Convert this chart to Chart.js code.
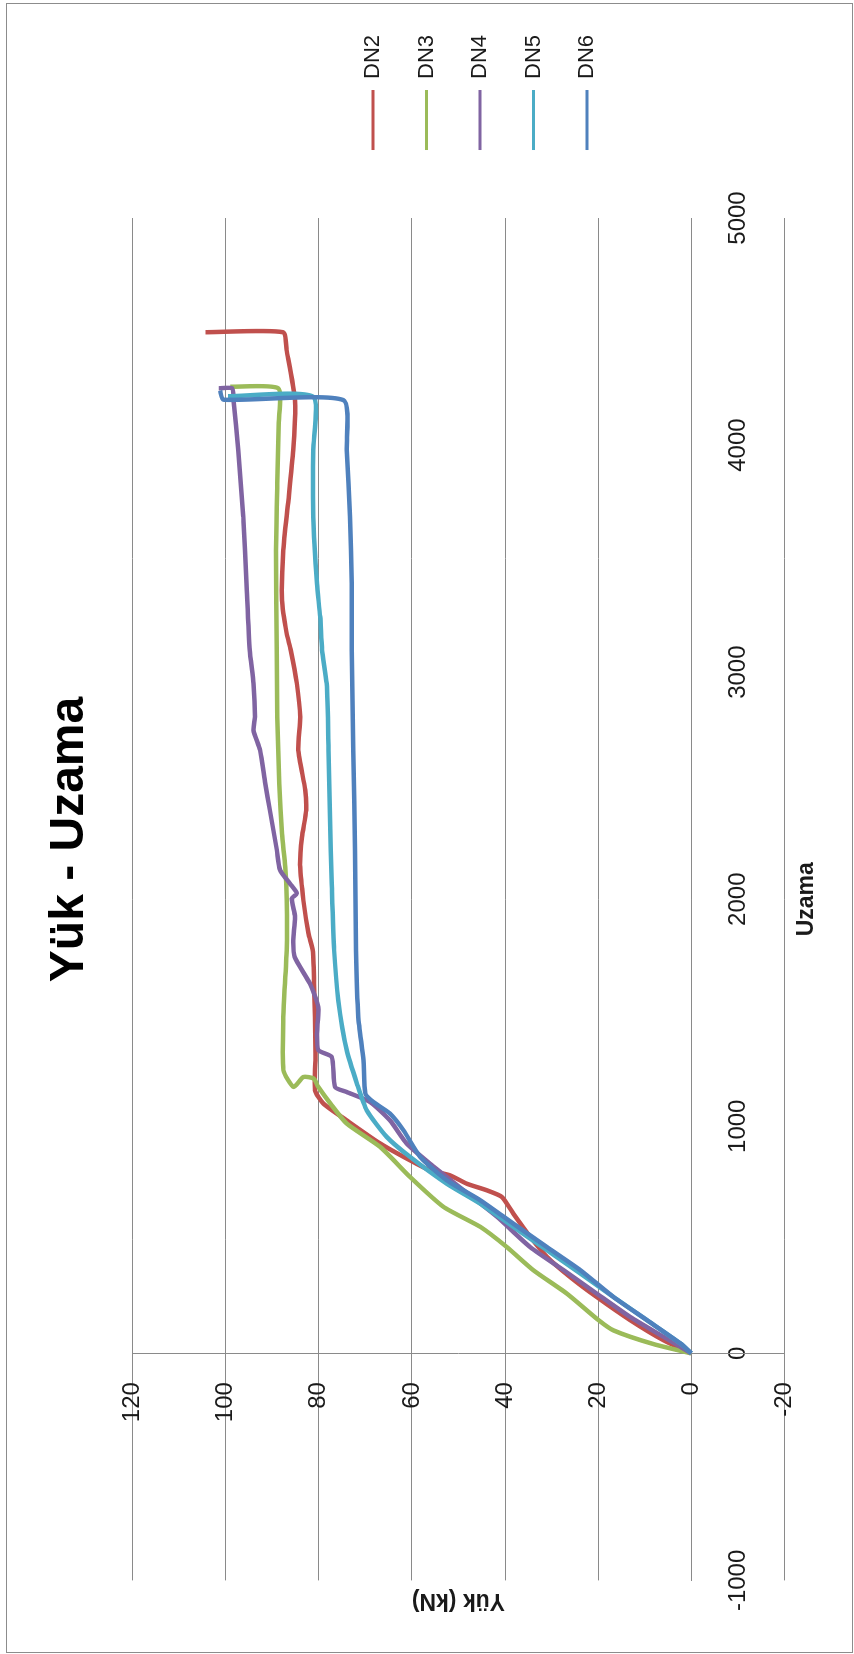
<!DOCTYPE html>
<html>
<head>
<meta charset="utf-8">
<title>Yük - Uzama</title>
<script src="https://cdn.jsdelivr.net/npm/chart.js@4.4.1/dist/chart.umd.min.js"></script>
<style>
    html, body { margin: 0; padding: 0; background: #fff; overflow: hidden; }
    #page { position: relative; width: 854px; height: 1654px; overflow: hidden; background: #fff; }
    #frame { position: absolute; left: 6px; top: 3px; width: 845px; height: 1648px; border: 1px solid #8c8c8c; }
    /* chart is drawn landscape, then turned a quarter turn to the left */
    #rot { position: absolute; left: 0; top: 0; width: 1654px; height: 854px;
           transform-origin: 0 0; transform: translate(0, 1654px) rotate(-90deg); }
</style>
</head>
<body>
<div id="page">
    <div id="frame"></div>
    <div id="rot"><canvas id="chart" width="1654" height="854"></canvas></div>
</div>

<script>
/* ── DATA ─────────────────────────────────────────── */
const uzamaTicks = [-1000, 0, 1000, 2000, 3000, 4000, 5000];
const yukTicks = [-20, 0, 20, 40, 60, 80, 100, 120];
const seriesNames = ['DN2', 'DN3', 'DN4', 'DN5', 'DN6'];

const uzamaDN2 = [0, 57, 146, 248, 336, 425, 513, 615, 689, 718, 747, 784, 806, 850, 924, 1026, 1100, 1158, 1320, 1481, 1628, 1775, 1849, 1995, 2142, 2274, 2392, 2481, 2656, 2803, 2950, 3097, 3171, 3317, 3537, 3757, 3978, 4198, 4418, 4497, 4497];
const yukDN2 = [0, 5.9, 13.1, 20.3, 26.0, 31.0, 34.6, 38.2, 40.7, 43.9, 48.2, 51.8, 56.1, 60.4, 66.8, 74.0, 79.0, 80.8, 80.7, 80.8, 81.0, 81.3, 82.2, 83.3, 84.0, 83.6, 82.7, 82.9, 84.4, 84.0, 84.7, 86.0, 86.9, 87.9, 87.6, 86.5, 85.5, 85.1, 86.9, 87.7, 104.3];

const uzamaDN3 = [0, 40, 101, 146, 263, 366, 468, 557, 645, 777, 909, 1012, 1100, 1173, 1210, 1217, 1173, 1247, 1481, 1775, 1995, 2142, 2289, 2510, 2803, 3097, 3537, 3832, 4100, 4250, 4257];
const yukDN3 = [0, 8.0, 16.7, 19.9, 26.7, 33.9, 39.6, 45.3, 53.2, 60.4, 66.8, 74.0, 77.5, 80.1, 81.1, 83.3, 85.4, 87.6, 87.6, 86.9, 86.9, 87.2, 87.9, 88.5, 88.9, 89.0, 89.2, 88.9, 88.6, 88.7, 99.0];

const uzamaDN4 = [0, 72, 160, 263, 366, 468, 601, 718, 835, 924, 1026, 1107, 1151, 1173, 1305, 1335, 1408, 1525, 1628, 1746, 1819, 1922, 2003, 2025, 2069, 2128, 2216, 2392, 2510, 2656, 2744, 2803, 2950, 3097, 3390, 3684, 3978, 4198, 4250, 4250];
const yukDN4 = [0, 5.9, 13.1, 20.3, 27.4, 34.6, 41.7, 48.9, 56.1, 61.1, 64.7, 69.0, 74.0, 76.5, 77.2, 80.1, 80.4, 80.1, 81.9, 85.2, 85.5, 85.1, 85.8, 84.7, 86.2, 88.3, 89.0, 90.5, 91.5, 92.6, 94.0, 93.7, 94.0, 94.8, 95.5, 96.2, 97.3, 98.3, 98.6, 101.5];

const uzamaDN5 = [0, 43, 146, 248, 351, 454, 557, 659, 747, 865, 953, 1070, 1188, 1335, 1555, 1775, 2069, 2362, 2656, 2950, 3097, 3244, 3390, 3684, 3978, 4213, 4215];
const yukDN5 = [0, 2.3, 9.5, 16.7, 23.8, 31.0, 38.2, 45.3, 52.5, 60.4, 65.4, 69.7, 71.8, 74.0, 75.8, 76.7, 77.2, 77.6, 77.9, 78.3, 79.3, 79.7, 80.4, 81.2, 81.2, 81.2, 99.5];

const uzamaDN6 = [0, 43, 146, 248, 366, 468, 571, 674, 762, 865, 982, 1056, 1107, 1144, 1291, 1481, 1775, 2216, 2656, 3097, 3390, 3684, 3978, 4198, 4200, 4240];
const yukDN6 = [0, 2.3, 9.5, 16.7, 23.8, 31.0, 38.2, 45.3, 52.5, 58.2, 61.8, 64.7, 68.3, 70.0, 70.4, 71.5, 72.0, 72.2, 72.6, 72.9, 72.9, 73.3, 74.0, 74.7, 100.5, 101.2];

/* ── STYLE ────────────────────────────────────────── */
const seriesColors = ['#C0504D', '#9BBB59', '#8064A2', '#4BACC6', '#4F81BD'];
const gridColor = '#8a8a8a';
const textColor = '#1a1a1a';

Chart.defaults.font.family = "'Liberation Sans', Arial, sans-serif";
Chart.defaults.color = textColor;

function toPoints(uz, yk) {
    return uz.map((u, i) => ({ x: u, y: yk[i] }));
}

const seriesData = [
    toPoints(uzamaDN2, yukDN2),
    toPoints(uzamaDN3, yukDN3),
    toPoints(uzamaDN4, yukDN4),
    toPoints(uzamaDN5, yukDN5),
    toPoints(uzamaDN6, yukDN6),
];

const datasets = seriesNames.map((name, i) => ({
    label: name,
    data: seriesData[i],
    showLine: true,
    borderColor: seriesColors[i],
    backgroundColor: seriesColors[i],
    borderWidth: 4.5,
    pointRadius: 0,
    tension: 0.2,
    order: seriesNames.length - i   // later series drawn on top, like Excel
}));

// title-only scales (no ticks, no grid) used for the axis captions
function captionScale(axis, position, text, pad) {
    return {
        type: 'linear', axis: axis, position: position, min: 0, max: 1,
        ticks: { display: false },
        grid: { display: false, drawTicks: false },
        border: { display: false },
        title: { display: true, text: text, color: textColor, padding: pad,
                 font: { size: 23, weight: 'bold' } }
    };
}

new Chart(document.getElementById('chart'), {
    type: 'scatter',
    data: { datasets: datasets },
    options: {
        responsive: false,
        animation: false,
        layout: { padding: { left: 0, right: 25, top: 0, bottom: 0 } },
        plugins: {
            tooltip: { enabled: false },
            title: {
                display: true,
                text: 'Yük - Uzama',
                color: '#000',
                font: { size: 48, weight: 'bold' },
                padding: { top: 41.2, bottom: 33.7 }
            },
            legend: {
                position: 'right',
                align: 'center',
                title: { display: true, text: ' ', font: { size: 10 }, padding: { top: 94, bottom: 0 } },
                labels: {
                    font: { size: 22 },
                    color: textColor,
                    usePointStyle: true,
                    pointStyleWidth: 60,
                    padding: 31.5,
                    sort: (a, b) => a.datasetIndex - b.datasetIndex,
                    generateLabels: chart => Chart.defaults.plugins.legend.labels.generateLabels(chart)
                        .map(l => Object.assign(l, { pointStyle: 'line', lineWidth: 3 }))
                }
            }
        },
        scales: {
            x: {
                type: 'linear',
                min: uzamaTicks[0],
                max: uzamaTicks[uzamaTicks.length - 1],
                position: { y: 0 },
                afterBuildTicks: s => { s.ticks = uzamaTicks.map(v => ({ value: v })); },
                ticks: { padding: 33, maxRotation: 0, autoSkip: false,
                         font: { size: 24 }, color: textColor, callback: v => String(v) },
                grid: { display: false, drawTicks: false },
                border: { display: true, color: gridColor, width: 1 }
            },
            y: {
                type: 'linear',
                min: yukTicks[0],
                max: yukTicks[yukTicks.length - 1],
                position: { x: 0 },
                afterBuildTicks: s => { s.ticks = yukTicks.map(v => ({ value: v })); },
                // labels of an axis placed at a value sit flush on it; trailing spaces hold them off
                ticks: { font: { size: 24 }, color: textColor, callback: v => String(v) + '\u2002\u2002\u2009' },
                grid: { color: gridColor, lineWidth: 1, drawTicks: false },
                border: { display: true, color: gridColor, width: 1 }
            },
            xCaption: captionScale('x', 'bottom', 'Uzama', { top: 8, bottom: 34 }),
            yCaption: captionScale('y', 'left', 'Yük (kN)', { top: 40, bottom: 6 }),
            // empty spacer between plot area and legend
            gap: {
                type: 'linear', axis: 'y', position: 'right', min: 0, max: 1,
                ticks: { display: false },
                grid: { display: false, drawTicks: false },
                border: { display: false },
                afterFit: s => { s.width = 36.5; }
            }
        }
    }
});
</script>
</body>
</html>
